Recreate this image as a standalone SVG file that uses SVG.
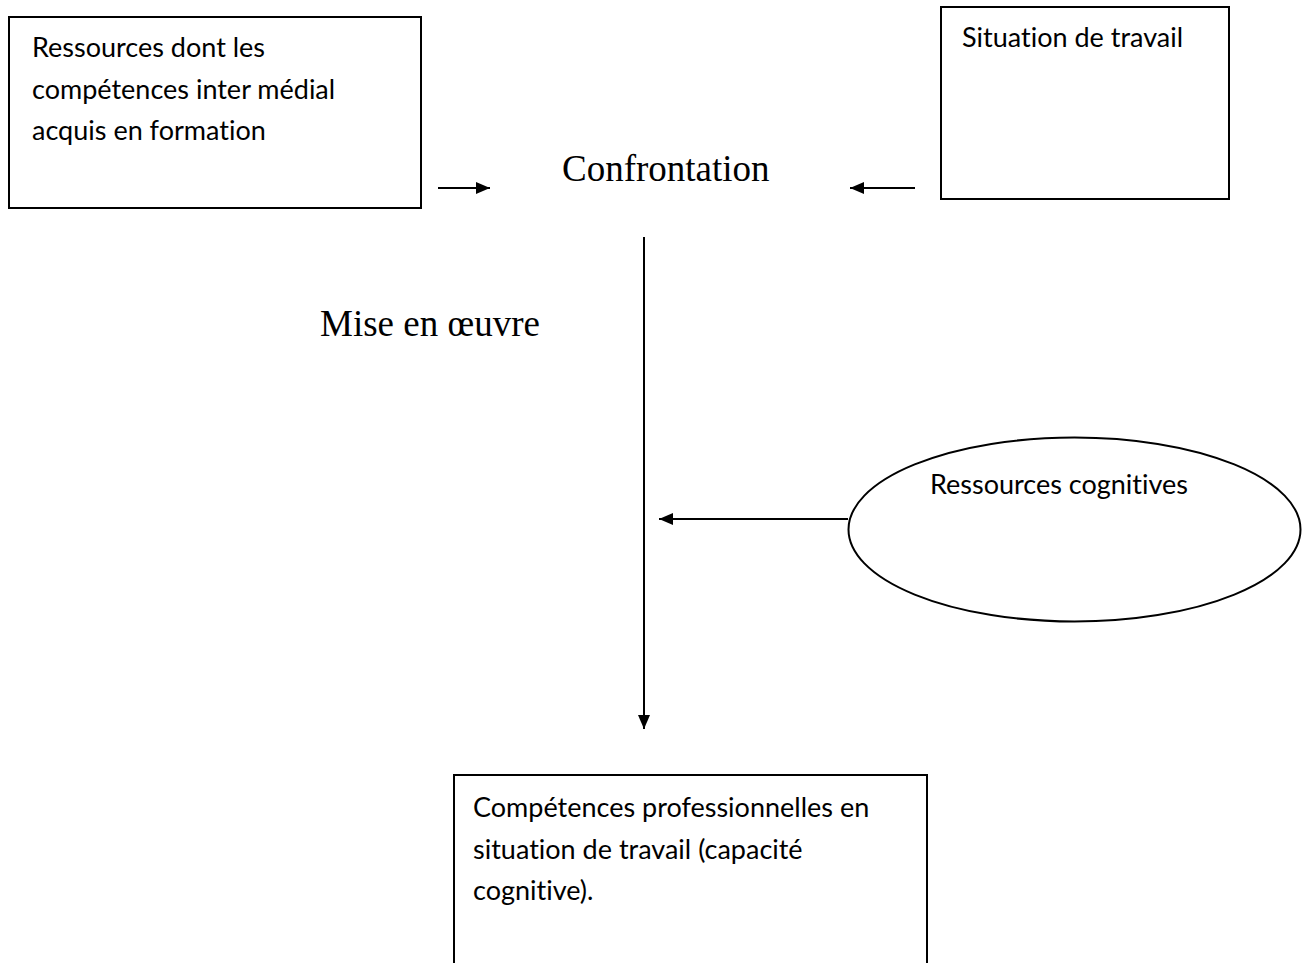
<svg xmlns="http://www.w3.org/2000/svg" width="1303" height="963" viewBox="0 0 1303 963">
<style>
.box{fill:#fff;stroke:#000;stroke-width:2}
.t{font-family:Lato,"Open Sans","Liberation Sans",sans-serif;font-size:27px;fill:#000;font-variant-ligatures:none}
.s{font-family:"Liberation Serif",serif;font-size:37px;fill:#000}
.c{stroke:#000;stroke-width:2;fill:none;marker-end:url(#ah)}
</style>
<defs>
<marker id="ah" markerWidth="14" markerHeight="12" refX="14" refY="6" orient="auto" markerUnits="userSpaceOnUse" viewBox="0 0 14 12">
<path d="M0,0 L14,6 L0,12 Z" fill="#000"/>
</marker>
</defs>
<rect width="1303" height="963" fill="#fff"/>
<g id="ressources">
<rect class="box" x="9" y="17" width="412" height="191"/>
<text class="t" x="32" y="57">Ressources dont les</text>
<text class="t" x="32" y="99">compétences inter médial</text>
<text class="t" x="32" y="140">acquis en formation</text>
</g>
<g id="situation">
<rect class="box" x="941" y="7" width="288" height="192"/>
<text class="t" x="962" y="47">Situation de travail</text>
</g>
<g id="confrontation">
<text class="s" x="562" y="181">Confrontation</text>
</g>
<g id="mise">
<text class="s" x="320" y="336">Mise en œuvre</text>
</g>
<g id="cognitives">
<ellipse class="box" cx="1074.5" cy="529.5" rx="226" ry="92"/>
<text class="t" x="930" y="494">Ressources cognitives</text>
</g>
<g id="competences">
<rect class="box" x="454" y="775" width="473" height="200"/>
<text class="t" x="473" y="817">Compétences professionnelles en</text>
<text class="t" x="473" y="859">situation de travail (capacité</text>
<text class="t" x="473" y="900">cognitive).</text>
</g>
<g id="connectors">
<line class="c" x1="438" y1="188" x2="490" y2="188"/>
<line class="c" x1="915" y1="188" x2="850" y2="188"/>
<line class="c" x1="644" y1="237" x2="644" y2="729"/>
<line class="c" x1="848" y1="519" x2="659" y2="519"/>
</g>
</svg>
